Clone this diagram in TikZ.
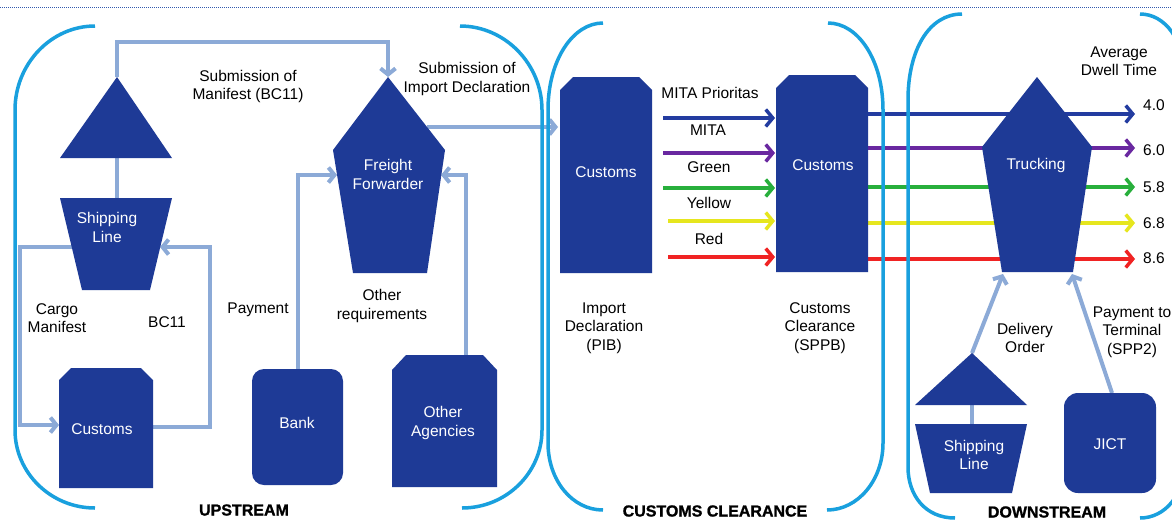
\documentclass[tikz,border=0pt]{standalone}
\usepackage{fontspec}
\setmainfont{Liberation Sans}
\newfontfamily\heavyfont[FakeBold=1.2]{Liberation Sans Bold}
\usetikzlibrary{arrows.meta}
\definecolor{nodeblue}{RGB}{30,58,150}
\definecolor{conn}{RGB}{140,170,215}
\definecolor{framec}{RGB}{25,160,222}
\definecolor{mblue}{RGB}{35,60,160}
\definecolor{mpurple}{RGB}{105,40,160}
\definecolor{mgreen}{RGB}{40,175,60}
\definecolor{myellow}{RGB}{230,230,30}
\definecolor{mred}{RGB}{240,35,35}
\definecolor{dotline}{RGB}{50,90,175}
\tikzset{
  shapefill/.style={fill=nodeblue},
  connline/.style={draw=conn, line width=4pt},
  connarrow/.style={connline, -{Straight Barb[length=6pt,width=15pt]}},
  prio/.style={line width=3.5pt, -{Straight Barb[length=7pt,width=17pt]}},
  frameline/.style={draw=framec, line width=3.5pt},
  lbl/.style={font=\fontsize{15.5}{18.5}\selectfont, align=center, text=black, inner sep=0pt},
  wlbl/.style={lbl, text=white},
  hdr/.style={font=\fontsize{16}{19}\selectfont\heavyfont, inner sep=0pt, text=black}
}
\begin{document}
\begin{tikzpicture}[x=1pt,y=-1pt]
\useasboundingbox (0,0) rectangle (1172,520);
\fill[white] (0,0) rectangle (1172,520);
% top rule
\draw[dotline, densely dotted, line width=1pt] (0,7) -- (1172,7);

% ---------- named points ----------
\coordinate (shipTriApex) at (117,77);
\coordinate (shipTriBase) at (117,158);
\coordinate (slTop) at (117,198);
\coordinate (slLeft) at (72,247);
\coordinate (slRight) at (160,247);
\coordinate (cuLeft) at (59,425);
\coordinate (cuRight) at (153,427);
\coordinate (ffApex) at (388,77);
\coordinate (ffLeft) at (337,175);
\coordinate (ffRight) at (441,175);
\coordinate (ffOut) at (427,127);
\coordinate (bankTop) at (298,369);
\coordinate (oaTop) at (466,355);
\coordinate (pibLeft) at (558,127);
\coordinate (shipTriApexB) at (972,353);
\coordinate (shipTriBaseB) at (972,405);
\coordinate (slTopB) at (972,424);
\coordinate (jictTop) at (1112,393);
\coordinate (truckBL) at (1003,274);
\coordinate (truckBR) at (1072,274);

% ---------- connectors ----------
\draw[connarrow] (shipTriApex) -- ++(0,-35) -| (ffApex);
\draw[connline] (shipTriBase) -- (slTop);
\draw[connarrow] (slLeft) -- ++(-52,0) |- (cuLeft);
\draw[connarrow] (cuRight) -- ++(57,0) |- (slRight);
\draw[connarrow] (bankTop) |- (ffLeft);
\draw[connarrow] (oaTop) |- (ffRight);
\draw[connarrow] (ffOut) -- (pibLeft);
\draw[connline] (shipTriBaseB) -- (slTopB);
\draw[connarrow] (shipTriApexB) -- (truckBL);
\draw[connarrow] (jictTop) -- (truckBR);

% ---------- priority arrows ----------
\foreach \n/\xa/\ya/\yb/\c in {a/663/118/114/mblue, b/663/153/148/mpurple, c/663/188/187/mgreen, d/668/221/223/myellow, e/668/257/259/mred}{
  \coordinate (s\n) at (\xa,\ya);
  \coordinate (e\n) at (775,\ya);
  \coordinate (r\n) at (868,\yb);
  \coordinate (f\n) at (1135,\yb);
  \draw[prio, draw=\c] (s\n) -- (e\n);
  \draw[prio, draw=\c] (r\n) -- (f\n);
}

% ---------- shapes ----------
\fill[shapefill] (117,77) -- (172,158) -- (60,158) -- cycle;
\fill[shapefill] (60,198) -- (172,198) -- (150,290) -- (82,290) -- cycle;
\fill[shapefill] (59,380) -- (71,368) -- (141,368) -- (153,380) -- (153,488) -- (59,488) -- cycle;
\fill[shapefill, rounded corners=12pt] (252,369) rectangle (343,485);
\fill[shapefill] (392,370) -- (406,355) -- (483,355) -- (497,370) -- (497,487) -- (392,487) -- cycle;
\fill[shapefill] (388,77) -- (445,150) -- (427,273) -- (353,273) -- (333,150) -- cycle;
\fill[shapefill] (560,90) -- (573,77) -- (639,77) -- (652,90) -- (652,273) -- (560,273) -- cycle;
\fill[shapefill] (776,88) -- (789,75) -- (855,75) -- (868,88) -- (868,272) -- (776,272) -- cycle;
\fill[shapefill] (1037,77) -- (1092,147) -- (1073,272) -- (1002,272) -- (982,147) -- cycle;
\fill[shapefill] (972,353) -- (1027,405) -- (915,405) -- cycle;
\fill[shapefill] (915,424) -- (1027,424) -- (1012,493) -- (930,493) -- cycle;
\fill[shapefill, rounded corners=14pt] (1064,393) rectangle (1156,493);

% ---------- panel frames ----------
\draw[frameline] (95,26) .. controls (51,26) and (15,64) .. (15,110) -- (15,430) .. controls (15,473) and (51,508) .. (95,508);
\draw[frameline] (460,26) .. controls (505,26) and (542,64) .. (542,110) -- (542,430) .. controls (542,473) and (506,508) .. (462,508);
\draw[frameline] (603,23) .. controls (573,23) and (548,60) .. (548,110) -- (548,443) .. controls (548,480) and (572,510) .. (603,510);
\draw[frameline] (828,23) .. controls (858,23) and (883,60) .. (883,110) -- (883,443) .. controls (883,480) and (858,510) .. (827,510);
\draw[frameline] (962,14) .. controls (929,14) and (908,50) .. (908,100) -- (908,467) .. controls (908,495) and (925,518) .. (955,518);
\draw[frameline] (1140,14) .. controls (1165,14) and (1185,40) .. (1185,80) -- (1185,460) .. controls (1185,495) and (1165,518) .. (1140,518);

% ---------- white labels ----------
\node[wlbl] (slTxt) at (107,227.5) {Shipping\\Line};
\node[wlbl] (cuTxt) at (102,429) {Customs};
\node[wlbl] (bankTxt) at (297,423) {Bank};
\node[wlbl] (oaTxt) at (443,423) {Other\\Agencies};
\node[wlbl] (ffTxt) at (388,174.5) {Freight\\Forwarder};
\node[wlbl] (pibTxt) at (606,172) {Customs};
\node[wlbl] (sppbTxt) at (823,165) {Customs};
\node[wlbl] (truckTxt) at (1036,165) {Trucking};
\node[wlbl] (slTxtB) at (974,455) {Shipping\\Line};
\node[wlbl] (jictTxt) at (1110,444) {JICT};

% ---------- black labels ----------
\node[lbl] (subMan) at (248,86.5) {Submission of\\Manifest (BC11)};
\node[lbl] (subImp) at (467,79) {Submission of\\Import Declaration};
\node[lbl] (cargo) at (57,318) {Cargo\\Manifest};
\node[lbl] (bc11) at (167,322) {BC11};
\node[lbl] (pay) at (258,310) {Payment};
\node[lbl] (otherreq) at (382,306) {Other\\requirements};
\node[lbl] (pibLbl) at (604,328) {Import\\Declaration\\(PIB)};
\node[lbl] (sppbLbl) at (820,328) {Customs\\Clearance\\(SPPB)};
\node[lbl] (l1) at (710,93) {MITA Prioritas};
\node[lbl] (l2) at (708,130) {MITA};
\node[lbl] (l3) at (709,167) {Green};
\node[lbl] (l4) at (709,203) {Yellow};
\node[lbl] (l5) at (709,239) {Red};
\node[lbl] (adt) at (1119,61) {Average\\Dwell Time};
\node[lbl] (v1) at (1154,105) {4.0};
\node[lbl] (v2) at (1154,150) {6.0};
\node[lbl] (v3) at (1154,187) {5.8};
\node[lbl] (v4) at (1154,223) {6.8};
\node[lbl] (v5) at (1154,258) {8.6};
\node[lbl] (deliv) at (1025,338) {Delivery\\Order};
\node[lbl] (payT) at (1132,332) {Payment to\\Terminal\\(SPP2)};

% ---------- headers ----------
\node[hdr] (up) at (244,510) {UPSTREAM};
\node[hdr] (cc) at (715,511) {CUSTOMS CLEARANCE};
\node[hdr] (down) at (1047,512) {DOWNSTREAM};
\end{tikzpicture}
\end{document}
